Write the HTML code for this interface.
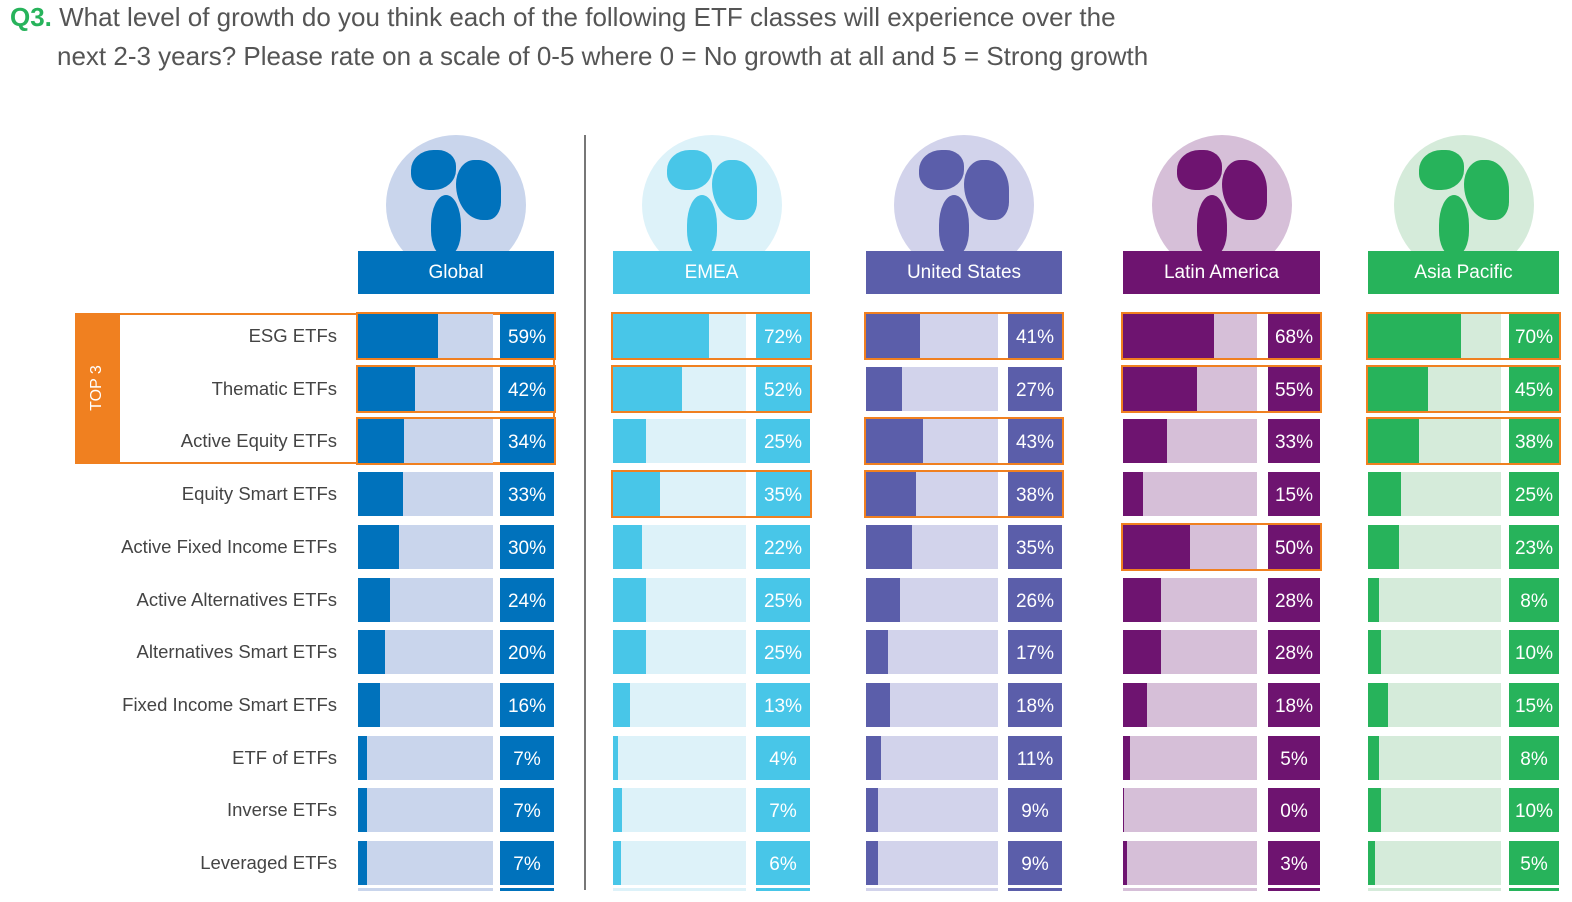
<!DOCTYPE html>
<html><head><meta charset="utf-8">
<style>
body{margin:0;width:1572px;height:902px;overflow:hidden;background:#fff;font-family:"Liberation Sans",sans-serif;position:relative}
.t{position:absolute;left:10px;font-size:26px;color:#555;white-space:nowrap;transform:scaleX(1.0);transform-origin:left}
.q{color:#27B35B;font-weight:bold}
.abs{position:absolute}
.lab{position:absolute;right:1235px;font-size:18.5px;color:#444;white-space:nowrap;text-align:right}
.val{position:absolute;color:#fff;font-size:19px;text-align:center}
.hdr{position:absolute;top:251px;height:43px;color:#fff;font-size:19px;line-height:43px;text-align:center}
</style></head>
<body>
<div class="t" style="top:2px"><span class="q">Q3.</span> What level of growth do you think each of the following ETF classes will experience over the</div>
<div class="t" style="top:41px;left:57px">next 2-3 years? Please rate on a scale of 0-5 where 0 = No growth at all and 5 = Strong growth</div>
<div class="abs" style="left:584px;top:135px;width:2px;height:755px;background:#777"></div>
<div class="abs" style="left:75px;top:313px;width:45px;height:149px;background:#F08020"></div>
<div class="abs" style="left:75px;top:313px;width:478px;height:147px;border:2px solid #F08020;border-left:none"></div>
<div class="abs" style="left:68px;top:378px;width:60px;height:20px;color:#fff;font-size:16px;text-align:center;transform:rotate(-90deg)">TOP 3</div>
<div id="root"></div>
<script>
const categories=["ESG ETFs","Thematic ETFs","Active Equity ETFs","Equity Smart ETFs","Active Fixed Income ETFs","Active Alternatives ETFs","Alternatives Smart ETFs","Fixed Income Smart ETFs","ETF of ETFs","Inverse ETFs","Leveraged ETFs"];
const regions=["Global","EMEA","United States","Latin America","Asia Pacific"];
const globalVals=[59,42,34,33,30,24,20,16,7,7,7];
const emeaVals=[72,52,25,35,22,25,25,13,4,7,6];
const usVals=[41,27,43,38,35,26,17,18,11,9,9];
const latamVals=[68,55,33,15,50,28,28,18,5,0,3];
const apacVals=[70,45,38,25,23,8,10,15,8,10,5];
const top3Global=[0,1,2],top3Emea=[0,1,3],top3Us=[0,2,3],top3Latam=[0,1,4],top3Apac=[0,1,2];
const series=[globalVals,emeaVals,usVals,latamVals,apacVals];
const tops=[top3Global,top3Emea,top3Us,top3Latam,top3Apac];
const panels=[
 {x:358,tw:135,vx:500,vw:54,dark:"#0072BC",light:"#C9D5EC",globe:"#C9D5EC"},
 {x:613,tw:133,vx:756,vw:54,dark:"#48C6E8",light:"#DDF2F9",globe:"#DDF2F9"},
 {x:866,tw:132,vx:1008,vw:54,dark:"#5B5EAA",light:"#D2D3EB",globe:"#D2D3EB"},
 {x:1123,tw:134,vx:1268,vw:52,dark:"#6E1470",light:"#D6BFD8",globe:"#D6BFD8"},
 {x:1368,tw:133,vx:1509,vw:50,dark:"#27B35B",light:"#D5EBDA",globe:"#D5EBDA"}];
const root=document.getElementById('root');
function rowY(i){return 314+i*52.7;}
function sx(v,p){return p.tw*v/100;}
function mk(css){const d=document.createElement('div');d.className='abs';d.style.cssText=css;root.appendChild(d);return d;}
categories.forEach((c,i)=>{
 const l=document.createElement('div');l.className='lab';l.textContent=c;l.style.top=(rowY(i)+11)+'px';
 
 
 root.appendChild(l);
});
panels.forEach((p,k)=>{
 const cx=p.x+(p.vx+p.vw-p.x)/2;
 const g=mk(`left:${cx-70}px;top:135px;width:140px;height:116px;overflow:hidden`);
 
 
 g.innerHTML=`<div style="width:140px;height:140px;border-radius:50%;background:${p.globe};position:relative;overflow:hidden"><div style="position:absolute;left:70px;top:25px;width:45px;height:60px;border-radius:40% 50% 30% 60%;background:${p.dark}"></div><div style="position:absolute;left:25px;top:15px;width:45px;height:40px;border-radius:50% 40% 50% 40%;background:${p.dark}"></div><div style="position:absolute;left:45px;top:60px;width:30px;height:60px;border-radius:50% 50% 40% 40%;background:${p.dark}"></div></div>`;
 const h=document.createElement('div');h.className='hdr';h.textContent=regions[k];
 h.style.left=p.x+'px';h.style.width=(p.vx+p.vw-p.x)+'px';h.style.background=p.dark;
 
 
 root.appendChild(h);
 series[k].forEach((v,i)=>{
  const y=rowY(i);
  const t=mk(`left:${p.x}px;top:${y}px;width:${p.tw}px;height:44px;background:${p.light}`);
  
  
  const f=mk(`left:${p.x}px;top:${y}px;width:${Math.max(sx(v,p),1)}px;height:44px;background:${p.dark}`);
  
  
  const b=document.createElement('div');b.className='val';
  b.style.cssText=`left:${p.vx}px;top:${y}px;width:${p.vw}px;height:44px;line-height:48px;background:${p.dark}`;
  b.textContent=v+'%';
  
  
  root.appendChild(b);
  if(tops[k].includes(i)){
   const o=mk(`left:${p.x-2}px;top:${y-2}px;width:${p.vx+p.vw-p.x}px;height:44px;border:2px solid #F08020`);
   
   
  }
 });
 const s1=mk(`left:${p.x}px;top:888px;width:${p.tw}px;height:3px;background:${p.light}`);
 
 
 const s2=mk(`left:${p.vx}px;top:888px;width:${p.vw}px;height:3px;background:${p.dark}`);
 
 
});
</script>
</body></html>
